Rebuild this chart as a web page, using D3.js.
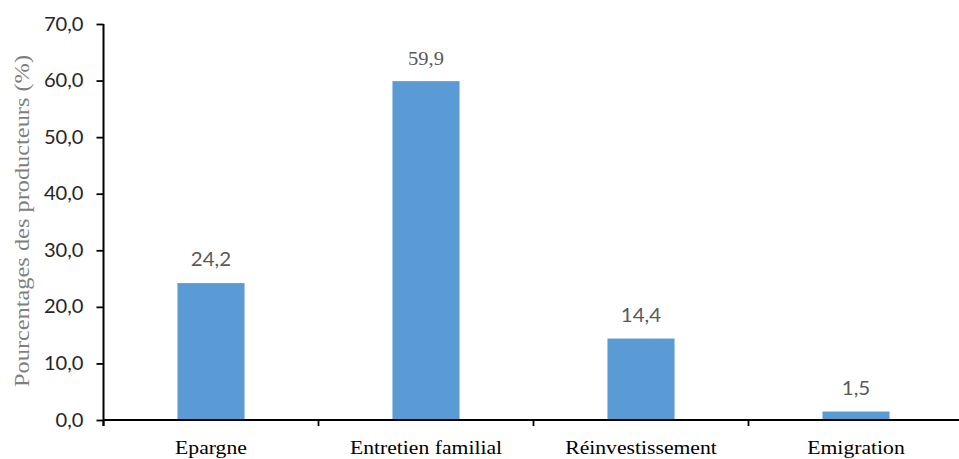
<!DOCTYPE html>
<html>
<head>
<meta charset="utf-8">
<script src="https://cdn.jsdelivr.net/npm/d3@7"></script>
<style>
  html, body { margin: 0; padding: 0; background: #fff; }
  svg { display: block; }
</style>
</head>
<body>
<svg id="chart" width="959" height="459"></svg>
<script>
// ---- data ----
const categories = ["Epargne", "Entretien familial", "Réinvestissement", "Emigration"];
const values = [24.2, 59.9, 14.4, 1.5];
const yTicks = [0, 10, 20, 30, 40, 50, 60, 70];
const yTitle = "Pourcentages des producteurs (%)";

// ---- layout ----
const W = 959, H = 459;
const plotLeft = 103.5, plotRight = 963.5, plotTop = 24, plotBase = 420;
const svg = d3.select("#chart");
const SANS = "Lato, 'Open Sans', sans-serif";
const SERIF = "'Liberation Serif', 'Times New Roman', serif";
const fmt = v => v.toFixed(1).replace(".", ",");

function stretch(sel, k) {
  sel.each(function () {
    const w = this.getComputedTextLength();
    d3.select(this).attr("textLength", w * k).attr("lengthAdjust", "spacingAndGlyphs");
  });
}

const y = d3.scaleLinear().domain([0, 70]).range([plotBase, plotTop]);
const x = d3.scaleBand().domain(categories).range([plotLeft, plotRight])
  .paddingInner(0.688).paddingOuter(0.344);

const rows = categories.map((c, i) => ({ c, v: values[i] }));

// bars
svg.append("g").selectAll("rect")
  .data(rows)
  .join("rect")
  .attr("x", d => x(d.c))
  .attr("width", x.bandwidth())
  .attr("y", d => y(d.v))
  .attr("height", d => y(0) - y(d.v))
  .attr("fill", "#5B9BD5");

// value labels
const vl = svg.append("g").selectAll("text")
  .data(rows)
  .join("text")
  .attr("x", d => x(d.c) + x.bandwidth() / 2)
  .attr("y", d => y(d.v) - (d.c === "Entretien familial" ? 16 : 17))
  .attr("text-anchor", "middle")
  .attr("font-family", d => d.c === "Entretien familial" ? SERIF : SANS)
  .attr("font-size", 19)
  .attr("fill", "#595959")
  .text(d => fmt(d.v));
stretch(vl, 1.08);

// y axis
const yAxis = svg.append("g")
  .attr("transform", `translate(${plotLeft},0)`)
  .call(d3.axisLeft(y).tickValues(yTicks).tickFormat(fmt).tickSize(7).tickSizeOuter(0));
yAxis.select(".domain").remove();
yAxis.selectAll(".tick line").attr("stroke", "#000").attr("stroke-width", 1.8);
const yt = yAxis.selectAll(".tick text")
  .attr("x", -20)
  .attr("font-family", SANS)
  .attr("font-size", 19)
  .attr("fill", "#262626");
stretch(yt, 1.06);
svg.append("line")
  .attr("x1", plotLeft).attr("x2", plotLeft)
  .attr("y1", y(70)).attr("y2", y(0) + 6)
  .attr("stroke", "#000").attr("stroke-width", 2);

// x axis
const xAxis = svg.append("g")
  .attr("transform", `translate(0,${plotBase})`)
  .call(d3.axisBottom(x).tickSize(0).tickSizeOuter(0));
xAxis.select(".domain").remove();
const xt = xAxis.selectAll(".tick text")
  .attr("y", 34)
  .attr("dy", 0)
  .attr("font-family", SERIF)
  .attr("font-size", 19)
  .attr("fill", "#000");
stretch(xt, 1.14);
svg.append("line")
  .attr("x1", plotLeft).attr("x2", W)
  .attr("y1", plotBase).attr("y2", plotBase)
  .attr("stroke", "#000").attr("stroke-width", 2);
svg.append("g").selectAll("line")
  .data(d3.range(categories.length + 1))
  .join("line")
  .attr("x1", i => x.range()[0] + i * x.step())
  .attr("x2", i => x.range()[0] + i * x.step())
  .attr("y1", plotBase).attr("y2", plotBase + 6)
  .attr("stroke", "#000").attr("stroke-width", 1.8);

// y title
const tt = svg.append("text")
  .attr("transform", `translate(29,${(55 + 387) / 2}) rotate(-90)`)
  .attr("text-anchor", "middle")
  .attr("font-family", SERIF)
  .attr("font-size", 21)
  .attr("fill", "#7f7f7f")
  .text(yTitle);
tt.attr("textLength", 332).attr("lengthAdjust", "spacingAndGlyphs");
</script>
</body>
</html>
